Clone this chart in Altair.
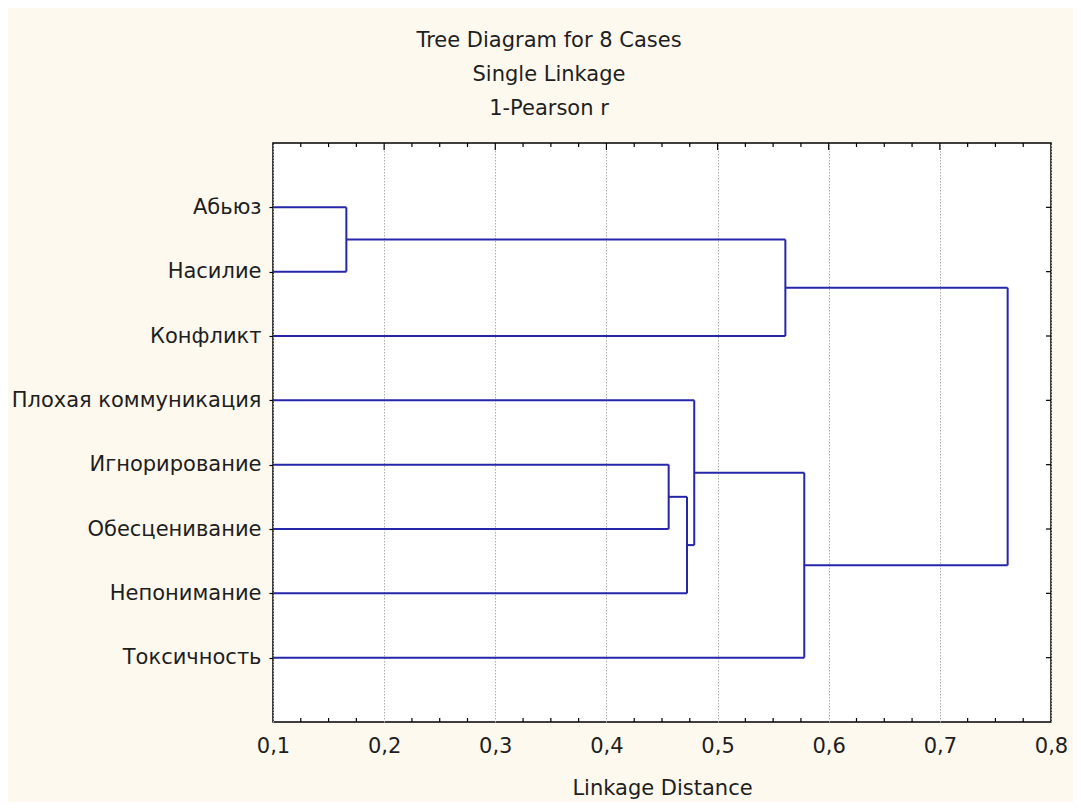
import json
import altair as alt
import pandas as pd

# ---- data ----
leaf_labels = ["Абьюз", "Насилие", "Конфликт", "Плохая коммуникация",
               "Игнорирование", "Обесценивание", "Непонимание", "Токсичность"]
merge_left = ["Абьюз", "m1", "Игнорирование", "m3", "Плохая коммуникация", "m5", "m2"]
merge_right = ["Насилие", "Конфликт", "Обесценивание", "Непонимание", "m4", "Токсичность", "m6"]
merge_height = [0.166, 0.561, 0.456, 0.4725, 0.479, 0.578, 0.761]

x_major = [0.1, 0.2, 0.3, 0.4, 0.5, 0.6, 0.7, 0.8]
x_minor = [round(0.1 + 0.025 * i, 3) for i in range(29) if i % 4]

title_lines = ["Tree Diagram for 8 Cases", "Single Linkage", "1-Pearson r"]
x_title = "Linkage Distance"

# ---- build dendrogram segments ----
pos = {n: i + 1 for i, n in enumerate(leaf_labels)}
hgt = {n: 0.0 for n in leaf_labels}
rows = []
for k, (a, b, h) in enumerate(zip(merge_left, merge_right, merge_height)):
    rows.append(dict(x=hgt[a], x2=h, y=pos[a], y2=pos[a]))
    rows.append(dict(x=hgt[b], x2=h, y=pos[b], y2=pos[b]))
    rows.append(dict(x=h, x2=h, y=pos[a], y2=pos[b]))
    name = f"m{k + 1}"
    pos[name] = (pos[a] + pos[b]) / 2
    hgt[name] = h
seg = pd.DataFrame(rows)

W, H = 778, 579
FONT = "DejaVu Sans"
FS = 21
TXT = "#1e1e1e"
LINE = "#2626aa"

xscale = alt.Scale(domain=[0.1, 0.8], nice=False, zero=False)
yscale = alt.Scale(domain=[0, 9], reverse=True, nice=False, zero=False)

xaxis = alt.Axis(values=x_major, labelExpr="replace(format(datum.value, '.1f'), '.', ',')",
                 grid=True, gridDash=[1.5, 1.5], gridColor="#adadad", gridWidth=1,
                 ticks=False, domain=False, labelPadding=13, titlePadding=21,
                 labelFontSize=FS, titleFontSize=FS, labelFont=FONT, titleFont=FONT,
                 labelColor=TXT, titleColor=TXT, titleFontWeight="normal",
                 labelFlush=False)
yaxis = alt.Axis(values=list(range(1, 9)),
                 labelExpr=json.dumps(leaf_labels, ensure_ascii=False) + "[datum.value - 1]",
                 grid=False, ticks=True, tickSize=4, tickColor="black", tickWidth=1.2,
                 domain=False, labelPadding=8, labelFontSize=FS, labelFont=FONT,
                 labelColor=TXT, labelLimit=0, title=None)

segments = alt.Chart(seg).mark_rule(color=LINE, strokeWidth=2, clip=True).encode(
    x=alt.X("x:Q", scale=xscale, axis=xaxis, title=x_title),
    x2="x2",
    y=alt.Y("y:Q", scale=yscale, axis=yaxis),
    y2="y2",
)

major_df = pd.DataFrame({"v": x_major[1:-1]})
minor_df = pd.DataFrame({"v": x_minor})
leaf_df = pd.DataFrame({"p": list(range(1, 9))})

def xenc(field):
    return alt.X(field, type="quantitative", scale=xscale, axis=xaxis, title=x_title)

top_major = alt.Chart(major_df).mark_rule(color="black", strokeWidth=1.2).encode(
    x=xenc("v"), y=alt.value(0), y2=alt.value(7))
top_minor = alt.Chart(minor_df).mark_rule(color="black", strokeWidth=1.2).encode(
    x=xenc("v"), y=alt.value(0), y2=alt.value(4))
bot_minor = alt.Chart(minor_df).mark_rule(color="black", strokeWidth=1.2).encode(
    x=xenc("v"), y=alt.value(H), y2=alt.value(H - 4))
right_ticks = alt.Chart(leaf_df).mark_rule(color="black", strokeWidth=1.2).encode(
    y=alt.Y("p:Q", scale=yscale, axis=yaxis), x=alt.value(W), x2=alt.value(W - 5))

chart = alt.layer(segments, top_major, top_minor, bot_minor, right_ticks).properties(
    width=W, height=H,
    title=alt.TitleParams(text=title_lines, fontSize=FS, font=FONT, color=TXT,
                          fontWeight="normal", lineHeight=34, anchor="middle",
                          frame="group", dx=-113, offset=23),
    autosize=alt.AutoSizeParams(type="none"),
    padding={"left": 265, "top": 135, "right": 22, "bottom": 80},
    background="#fdf9ee",
).configure_view(stroke="black", strokeWidth=1.5, fill="white")

chart.save("out.html", embed_options={"renderer": "svg", "actions": False})
